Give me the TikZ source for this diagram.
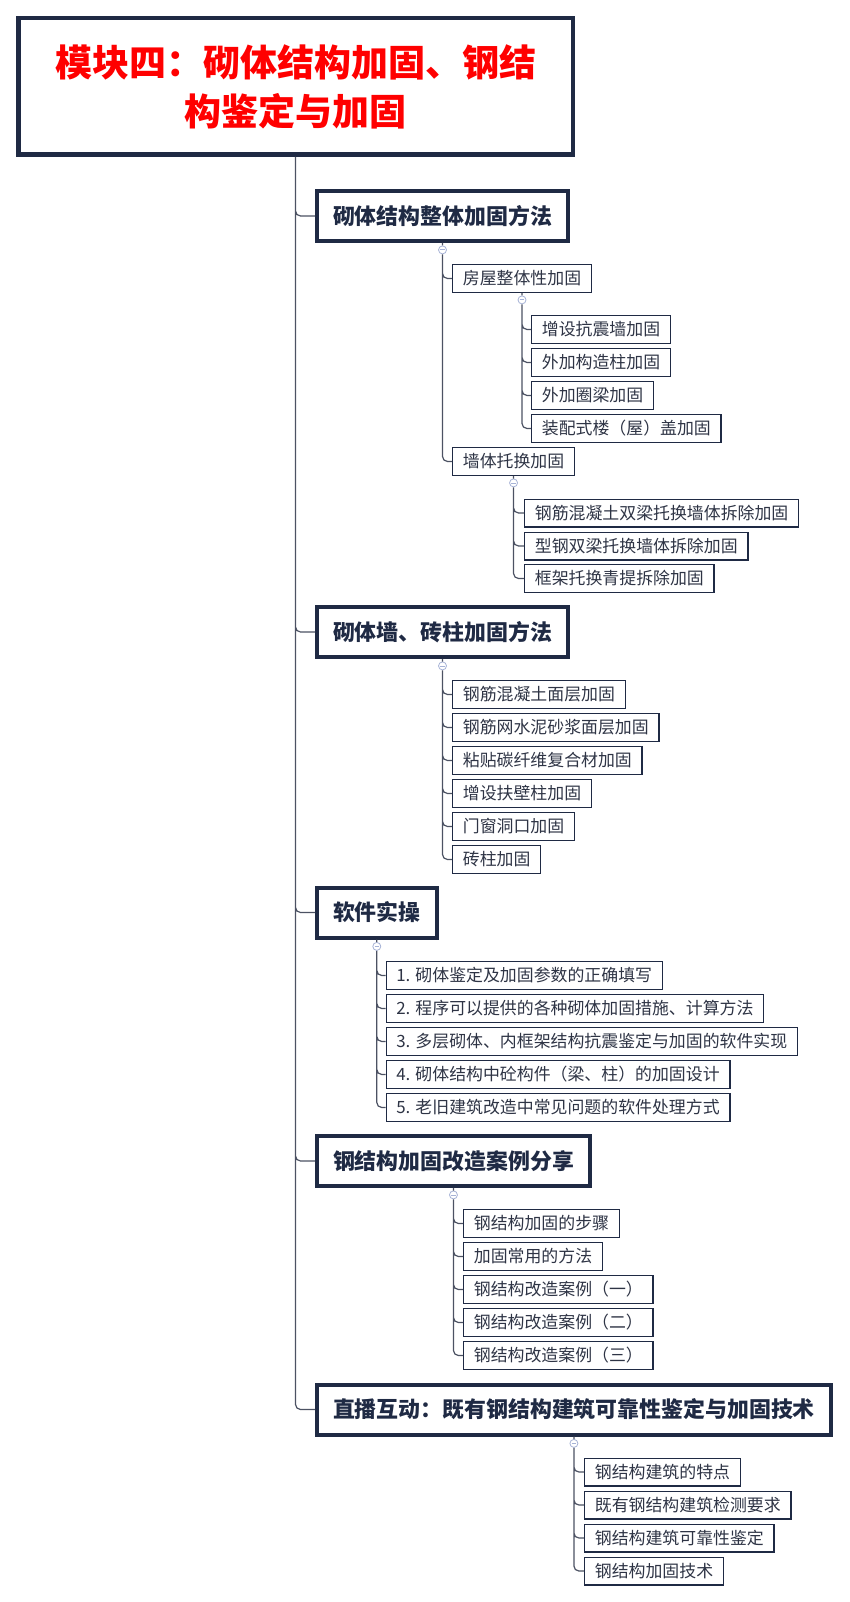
\documentclass[tikz,border=0pt]{standalone}
\usepackage{fontspec}
\setmainfont{Noto Sans CJK SC}
\usetikzlibrary{positioning}
\definecolor{boxC}{HTML}{1F2A44}
\definecolor{leafT}{HTML}{2E3445}
\definecolor{lineC}{HTML}{4C5263}
\definecolor{foldC}{HTML}{A7B3D6}

\begin{document}
\begin{tikzpicture}[x=1pt,y=-1pt,
    rootbox/.style={draw=boxC,line width=4.5pt,fill=white,text=red,align=center,minimum width=554.5pt,minimum height=136.5pt,font=\fontsize{37}{49}\selectfont\bfseries},
    headbox/.style={draw=boxC,line width=4pt,fill=white,text=boxC,anchor=west,minimum height=50pt,inner xsep=16pt,text height=19.3pt,text depth=2.6pt,font=\fontsize{21.9}{26}\selectfont\bfseries},
    leafbox/.style={draw=boxC,line width=1.3pt,fill=white,text=leafT,anchor=west,minimum height=27.7pt,inner xsep=10.2pt,inner ysep=0pt,text height=14.9pt,text depth=2pt,font=\fontsize{16.9}{20}\selectfont},
    foldmark/.style={circle,draw=foldC,fill=white,line width=.8pt,minimum size=8pt,inner sep=0pt,
      path picture={\draw[foldC,line width=.8pt] ([xshift=-2.3pt]path picture bounding box.center) -- ([xshift=2.3pt]path picture bounding box.center);}},
    link/.style={draw=lineC,line width=1.2pt,rounded corners=5pt}]
          \useasboundingbox (0,0) rectangle (850,1602);

          \node[rootbox] (title) at (295.5,86.5) {模块四：砌体结构加固、钢结\\构鉴定与加固};

          \node[headbox] (secA) at (315,216) {砌体结构整体加固方法};
          \node[foldmark,below=2.5pt of secA] (ca) {};
          \node[leafbox] (a1) at (452,278.5) {房屋整体性加固};
          \node[foldmark,below=2.5pt of a1] (ca1) {};
          \node[leafbox] (a11) at (531,329.5) {增设抗震墙加固};
          \node[leafbox] (a12) at (531,362.5) {外加构造柱加固};
          \node[leafbox] (a13) at (531,395.5) {外加圈梁加固};
          \node[leafbox] (a14) at (531,428.5) {装配式楼（屋）盖加固};
          \node[leafbox] (a2) at (452,461.5) {墙体托换加固};
          \node[foldmark,below=2.5pt of a2] (ca2) {};
          \node[leafbox] (a21) at (524,513) {钢筋混凝土双梁托换墙体拆除加固};
          \node[leafbox] (a22) at (524,546) {型钢双梁托换墙体拆除加固};
          \node[leafbox] (a23) at (524,578.5) {框架托换青提拆除加固};

          \node[headbox] (secB) at (315,632) {砌体墙、砖柱加固方法};
          \node[foldmark,below=2.5pt of secB] (cb) {};
          \node[leafbox] (b1) at (452,694.5) {钢筋混凝土面层加固};
          \node[leafbox] (b2) at (452,727.5) {钢筋网水泥砂浆面层加固};
          \node[leafbox] (b3) at (452,760.5) {粘贴碳纤维复合材加固};
          \node[leafbox] (b4) at (452,793.5) {增设扶壁柱加固};
          \node[leafbox] (b5) at (452,826.5) {门窗洞口加固};
          \node[leafbox] (b6) at (452,859.5) {砖柱加固};

          \node[headbox] (secC) at (315,912.5) {软件实操};
          \node[foldmark,below=2.5pt of secC] (cc) {};
          \node[leafbox] (c1) at (385.5,975.5) {1. 砌体鉴定及加固参数的正确填写};
          \node[leafbox] (c2) at (385.5,1008.5) {2. 程序可以提供的各种砌体加固措施、计算方法};
          \node[leafbox] (c3) at (385.5,1041.5) {3. 多层砌体、内框架结构抗震鉴定与加固的软件实现};
          \node[leafbox] (c4) at (385.5,1074.5) {4. 砌体结构中砼构件（梁、柱）的加固设计};
          \node[leafbox] (c5) at (385.5,1107.5) {5. 老旧建筑改造中常见问题的软件处理方式};

          \node[headbox] (secD) at (315,1161) {钢结构加固改造案例分享};
          \node[foldmark,below=2.5pt of secD] (cd) {};
          \node[leafbox] (d1) at (463,1223.5) {钢结构加固的步骤};
          \node[leafbox] (d2) at (463,1256.5) {加固常用的方法};
          \node[leafbox] (d3) at (463,1289.5) {钢结构改造案例（一）};
          \node[leafbox] (d4) at (463,1322.5) {钢结构改造案例（二）};
          \node[leafbox] (d5) at (463,1355.5) {钢结构改造案例（三）};

          \node[headbox] (secE) at (315,1409.5) {直播互动：既有钢结构建筑可靠性鉴定与加固技术};
          \node[foldmark,below=2.5pt of secE] (ce) {};
          \node[leafbox] (e1) at (584,1472) {钢结构建筑的特点};
          \node[leafbox] (e2) at (584,1505) {既有钢结构建筑检测要求};
          \node[leafbox] (e3) at (584,1538) {钢结构建筑可靠性鉴定};
          \node[leafbox] (e4) at (584,1571) {钢结构加固技术};

          \draw[link] (title) |- (secA) (title) |- (secB) (title) |- (secC) (title) |- (secD) (title) |- (secE);
          \draw[link] (secA) -- (ca) (ca) |- (a1) (ca) |- (a2);
          \draw[link] (a1) -- (ca1) (ca1) |- (a11) (ca1) |- (a12) (ca1) |- (a13) (ca1) |- (a14);
          \draw[link] (a2) -- (ca2) (ca2) |- (a21) (ca2) |- (a22) (ca2) |- (a23);
          \draw[link] (secB) -- (cb) (cb) |- (b1) (cb) |- (b2) (cb) |- (b3) (cb) |- (b4) (cb) |- (b5) (cb) |- (b6);
          \draw[link] (secC) -- (cc) (cc) |- (c1) (cc) |- (c2) (cc) |- (c3) (cc) |- (c4) (cc) |- (c5);
          \draw[link] (secD) -- (cd) (cd) |- (d1) (cd) |- (d2) (cd) |- (d3) (cd) |- (d4) (cd) |- (d5);
          \draw[link] (secE) -- (ce) (ce) |- (e1) (ce) |- (e2) (ce) |- (e3) (ce) |- (e4);

          \end{tikzpicture}
\end{document}
